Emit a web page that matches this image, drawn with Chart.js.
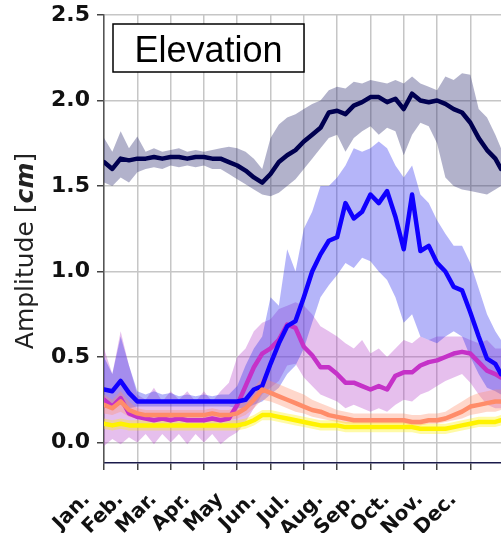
<!DOCTYPE html>
<html>
<head>
<meta charset="utf-8">
<script src="https://cdn.jsdelivr.net/npm/chart.js@4.4.1/dist/chart.umd.min.js"></script>
<style>
  body { margin: 0; background: white; }
  canvas { display: block; }
</style>
</head>
<body>
<canvas id="grafico" width="501" height="533"></canvas>
<script>
// tempo em meses desde 1 de janeiro
var tempo = [
    0, 0.25, 0.5, 0.75, 1, 1.25, 1.5, 1.75, 2, 2.25, 2.5, 2.75,
    3, 3.25, 3.5, 3.75, 4, 4.25, 4.5, 4.75, 5, 5.25, 5.5, 5.75,
    6, 6.25, 6.5, 6.75, 7, 7.25, 7.5, 7.75, 8, 8.25, 8.5, 8.75,
    9, 9.25, 9.5, 9.75, 10, 10.25, 10.5, 10.75, 11, 11.25, 11.5, 11.75,
    11.92
]
var nomesMeses = ['Jan.', 'Feb.', 'Mar.', 'Apr.', 'May', 'Jun.', 'Jul.', 'Aug.', 'Sep.', 'Oct.', 'Nov.', 'Dec.']
var posMeses = [0, 1, 2, 3, 4, 5, 6, 7, 8, 9, 10, 11]
var ticksY = [0, 0.5, 1.0, 1.5, 2.0, 2.5]
var tituloPainel = 'Elevation'

var navyMedia = [
    1.64, 1.60, 1.66, 1.65, 1.66, 1.66, 1.67, 1.66, 1.67, 1.67, 1.66, 1.67,
    1.67, 1.66, 1.66, 1.64, 1.62, 1.59, 1.55, 1.52, 1.57, 1.64, 1.68, 1.71,
    1.76, 1.80, 1.84, 1.93, 1.94, 1.92, 1.97, 1.99, 2.02, 2.02, 1.99, 2.01,
    1.95, 2.04, 2.00, 1.99, 2.00, 1.98, 1.95, 1.93, 1.87, 1.78, 1.71, 1.66,
    1.60
]
var navyAlto = [
    1.78, 1.70, 1.82, 1.72, 1.79, 1.70, 1.72, 1.70, 1.71, 1.72, 1.70, 1.71,
    1.70, 1.71, 1.72, 1.73, 1.72, 1.70, 1.66, 1.60, 1.78, 1.86, 1.90, 1.92,
    1.95, 1.98, 2.00, 2.06, 2.08, 2.07, 2.11, 2.10, 2.12, 2.11, 2.10, 2.12,
    2.10, 2.14, 2.10, 2.08, 2.06, 2.14, 2.12, 2.16, 2.15, 1.95, 1.90, 1.80,
    1.72
]
var navyBaixo = [
    1.52, 1.50, 1.55, 1.52, 1.58, 1.60, 1.61, 1.60, 1.62, 1.61, 1.62, 1.61,
    1.62, 1.60, 1.60, 1.57, 1.54, 1.51, 1.48, 1.45, 1.44, 1.46, 1.50, 1.54,
    1.60, 1.66, 1.72, 1.78, 1.80, 1.70, 1.78, 1.82, 1.85, 1.80, 1.84, 1.82,
    1.68, 1.80, 1.87, 1.85, 1.75, 1.55, 1.50, 1.48, 1.47, 1.46, 1.45, 1.48,
    1.50
]

var azulMedia = [
    0.31, 0.30, 0.36, 0.29, 0.24, 0.24, 0.24, 0.24, 0.24, 0.24, 0.24, 0.24,
    0.24, 0.24, 0.24, 0.24, 0.24, 0.25, 0.31, 0.33, 0.46, 0.58, 0.68, 0.71,
    0.85, 1.00, 1.10, 1.18, 1.20, 1.40, 1.31, 1.35, 1.45, 1.40, 1.47, 1.32,
    1.13, 1.45, 1.12, 1.15, 1.05, 1.00, 0.91, 0.89, 0.76, 0.62, 0.49, 0.46,
    0.40
]
var azulAlto = [
    0.50, 0.40, 0.62, 0.45, 0.30, 0.28, 0.30, 0.28, 0.29, 0.27, 0.28, 0.27,
    0.28, 0.27, 0.28, 0.28, 0.33, 0.45, 0.55, 0.62, 0.85, 0.80, 1.13, 1.00,
    1.25, 1.35, 1.50, 1.50, 1.55, 1.62, 1.72, 1.70, 1.72, 1.76, 1.72, 1.62,
    1.55, 1.62, 1.45, 1.40, 1.30, 1.22, 1.15, 1.15, 1.05, 0.90, 0.75, 0.65,
    0.60
]
var azulBaixo = [
    0.20, 0.22, 0.22, 0.20, 0.21, 0.21, 0.21, 0.21, 0.21, 0.21, 0.21, 0.21,
    0.21, 0.21, 0.21, 0.21, 0.20, 0.20, 0.22, 0.24, 0.28, 0.32, 0.40, 0.45,
    0.55, 0.70, 0.85, 0.92, 0.98, 1.05, 1.02, 1.08, 1.06, 1.00, 0.95, 0.85,
    0.70, 0.75, 0.62, 0.60, 0.58, 0.62, 0.65, 0.62, 0.50, 0.40, 0.32, 0.30,
    0.28
]

var magentaMedia = [
    0.25, 0.21, 0.26, 0.17, 0.15, 0.14, 0.13, 0.14, 0.13, 0.14, 0.13, 0.13,
    0.13, 0.14, 0.13, 0.14, 0.22, 0.33, 0.44, 0.52, 0.55, 0.60, 0.69, 0.67,
    0.56, 0.51, 0.44, 0.44, 0.40, 0.35, 0.35, 0.33, 0.31, 0.33, 0.31, 0.39,
    0.41, 0.41, 0.45, 0.47, 0.48, 0.50, 0.52, 0.53, 0.52, 0.47, 0.42, 0.40,
    0.38
]
var magentaAlto = [
    0.55, 0.40, 0.65, 0.45, 0.28, 0.25, 0.32, 0.24, 0.30, 0.25, 0.30, 0.24,
    0.30, 0.24, 0.30, 0.35, 0.50, 0.55, 0.65, 0.70, 0.72, 0.78, 0.80, 0.82,
    0.80, 0.75, 0.68, 0.65, 0.62, 0.58, 0.55, 0.60, 0.52, 0.55, 0.50, 0.55,
    0.60, 0.58, 0.62, 0.60, 0.62, 0.62, 0.62, 0.62, 0.60, 0.58, 0.60, 0.55,
    0.55
]
var magentaBaixo = [
    -0.02, 0.02, -0.01, 0.03, 0.00, 0.05, -0.01, 0.05, 0.00, 0.05, -0.01, 0.05,
    0.00, 0.05, -0.01, 0.03, 0.06, 0.12, 0.20, 0.28, 0.32, 0.36, 0.45, 0.46,
    0.38, 0.33, 0.28, 0.26, 0.24, 0.20, 0.22, 0.20, 0.18, 0.20, 0.18, 0.22,
    0.25, 0.24, 0.28, 0.30, 0.33, 0.36, 0.38, 0.40, 0.35, 0.28, 0.22, 0.20,
    0.20
]

var salmaoMedia = [
    0.22, 0.20, 0.24, 0.19, 0.17, 0.16, 0.16, 0.16, 0.16, 0.16, 0.16, 0.16,
    0.16, 0.17, 0.16, 0.16, 0.17, 0.20, 0.25, 0.31, 0.29, 0.27, 0.25, 0.23,
    0.21, 0.19, 0.18, 0.16, 0.15, 0.14, 0.13, 0.13, 0.13, 0.13, 0.13, 0.13,
    0.13, 0.12, 0.12, 0.13, 0.13, 0.14, 0.16, 0.18, 0.21, 0.22, 0.23, 0.24,
    0.24
]
var salmaoAlto = [
    0.28, 0.25, 0.30, 0.24, 0.20, 0.19, 0.19, 0.19, 0.19, 0.19, 0.19, 0.19,
    0.19, 0.20, 0.19, 0.19, 0.21, 0.26, 0.32, 0.38, 0.36, 0.34, 0.32, 0.30,
    0.28, 0.25, 0.23, 0.21, 0.19, 0.18, 0.17, 0.17, 0.17, 0.17, 0.17, 0.17,
    0.17, 0.16, 0.16, 0.17, 0.17, 0.18, 0.21, 0.24, 0.27, 0.29, 0.30, 0.31,
    0.31
]
var salmaoBaixo = [
    0.17, 0.16, 0.18, 0.15, 0.14, 0.13, 0.13, 0.13, 0.13, 0.13, 0.13, 0.13,
    0.13, 0.14, 0.13, 0.13, 0.14, 0.16, 0.20, 0.25, 0.24, 0.22, 0.20, 0.18,
    0.17, 0.15, 0.14, 0.13, 0.12, 0.11, 0.11, 0.11, 0.11, 0.11, 0.11, 0.11,
    0.11, 0.10, 0.10, 0.11, 0.11, 0.12, 0.13, 0.14, 0.16, 0.17, 0.18, 0.18,
    0.19
]

var amareloMedia = [
    0.11, 0.10, 0.11, 0.10, 0.10, 0.10, 0.10, 0.10, 0.10, 0.10, 0.10, 0.10,
    0.10, 0.10, 0.10, 0.10, 0.10, 0.11, 0.13, 0.16, 0.16, 0.15, 0.14, 0.13,
    0.12, 0.11, 0.10, 0.10, 0.10, 0.09, 0.09, 0.09, 0.09, 0.09, 0.09, 0.09,
    0.09, 0.09, 0.08, 0.08, 0.08, 0.08, 0.09, 0.10, 0.11, 0.12, 0.12, 0.12,
    0.13
]
var amareloAlto = [
    0.14, 0.13, 0.14, 0.13, 0.13, 0.13, 0.13, 0.13, 0.13, 0.13, 0.13, 0.13,
    0.13, 0.13, 0.13, 0.13, 0.13, 0.14, 0.16, 0.19, 0.19, 0.18, 0.17, 0.16,
    0.15, 0.14, 0.13, 0.13, 0.13, 0.12, 0.12, 0.12, 0.12, 0.12, 0.12, 0.12,
    0.12, 0.12, 0.11, 0.11, 0.11, 0.11, 0.12, 0.13, 0.14, 0.15, 0.15, 0.15,
    0.16
]
var amareloBaixo = [
    0.08, 0.07, 0.08, 0.07, 0.07, 0.07, 0.07, 0.07, 0.07, 0.07, 0.07, 0.07,
    0.07, 0.07, 0.07, 0.07, 0.07, 0.08, 0.10, 0.13, 0.13, 0.12, 0.11, 0.10,
    0.09, 0.08, 0.07, 0.07, 0.07, 0.06, 0.06, 0.06, 0.06, 0.06, 0.06, 0.06,
    0.06, 0.06, 0.05, 0.05, 0.05, 0.05, 0.06, 0.07, 0.08, 0.09, 0.09, 0.09,
    0.10
]

// ordem: o primeiro fica por cima
var series = [
    { media: amareloMedia, alto: amareloAlto, baixo: amareloBaixo, cor: '#fff200', faixa: 'rgba(255, 240, 0, 0.35)' },
    { media: salmaoMedia, alto: salmaoAlto, baixo: salmaoBaixo, cor: '#ff8c69', faixa: 'rgba(255, 140, 105, 0.35)' },
    { media: azulMedia, alto: azulAlto, baixo: azulBaixo, cor: '#1000ff', faixa: 'rgba(60, 60, 240, 0.38)' },
    { media: magentaMedia, alto: magentaAlto, baixo: magentaBaixo, cor: '#c531c8', faixa: 'rgba(180, 60, 200, 0.33)' },
    { media: navyMedia, alto: navyAlto, baixo: navyBaixo, cor: '#000050', faixa: 'rgba(45, 45, 115, 0.37)' }
]

function pontos(valores) {
    return tempo.map((t, i) => ({ x: t, y: valores[i] }))
}

function montarDatasets() {
    var lista = []
    for (let i = 0; i < series.length; i++) {
        lista.push({
            data: pontos(series[i].media),
            borderColor: series[i].cor,
            borderWidth: 4.5,
            borderJoinStyle: 'round',
            borderCapStyle: 'round',
            fill: false
        })
    }
    for (let i = 0; i < series.length; i++) {
        var idx = lista.length
        lista.push({
            data: pontos(series[i].alto),
            borderWidth: 0,
            borderColor: 'transparent',
            backgroundColor: series[i].faixa,
            fill: idx + 1
        })
        lista.push({
            data: pontos(series[i].baixo),
            borderWidth: 0,
            borderColor: 'transparent',
            fill: false
        })
    }
    return lista
}

var caixaTitulo = {
    id: 'caixaTitulo',
    afterDraw: function (chart) {
        var ctx = chart.ctx
        var a = chart.chartArea
        var x = a.left + 9
        var y = a.top + 9
        ctx.save()
        ctx.fillStyle = 'white'
        ctx.fillRect(x, y, 191, 48)
        ctx.lineWidth = 1.5
        ctx.strokeStyle = 'black'
        ctx.strokeRect(x, y, 191, 48)
        ctx.fillStyle = 'black'
        ctx.font = '36px "Liberation Sans"'
        ctx.textAlign = 'center'
        ctx.textBaseline = 'alphabetic'
        ctx.fillText(tituloPainel, x + 95.5, y + 38)
        ctx.restore()
    }
}

var rotuloY = {
    id: 'rotuloY',
    afterDraw: function (chart) {
        var ctx = chart.ctx
        var partes = [
            ['Amplitude [', '25px "DejaVu Sans"'],
            ['cm', 'italic bold 25px "DejaVu Sans"'],
            [']', '25px "DejaVu Sans"']
        ]
        var total = 0
        for (let i = 0; i < partes.length; i++) {
            ctx.font = partes[i][1]
            total += ctx.measureText(partes[i][0]).width
        }
        ctx.save()
        ctx.translate(33, 251)
        ctx.rotate(-Math.PI / 2)
        ctx.fillStyle = '#222'
        ctx.textBaseline = 'alphabetic'
        ctx.textAlign = 'left'
        var pos = -total / 2
        for (let i = 0; i < partes.length; i++) {
            ctx.font = partes[i][1]
            ctx.fillText(partes[i][0], pos, 0)
            pos += ctx.measureText(partes[i][0]).width
        }
        ctx.restore()
    }
}

var ctx = document.getElementById('grafico').getContext('2d')
var grafico = new Chart(ctx, {
    type: 'line',
    data: { datasets: montarDatasets() },
    options: {
        responsive: false,
        animation: false,
        layout: { padding: { top: 15, right: 0, left: 0, bottom: 0 } },
        elements: { point: { radius: 0 }, line: { tension: 0 } },
        plugins: {
            legend: { display: false },
            tooltip: { enabled: false }
        },
        scales: {
            x: {
                type: 'linear',
                min: 0,
                max: 11.92,
                afterBuildTicks: function (scale) {
                    scale.ticks = posMeses.map(v => ({ value: v }))
                },
                afterFit: function (scale) {
                    scale.height = 70
                    scale.paddingRight = 0
                },
                grid: { color: '#c6c6c6', lineWidth: 1.5, tickLength: 7, tickColor: '#444', tickWidth: 1.5 },
                border: { display: true, color: '#1a1a4a', width: 1.5 },
                ticks: {
                    autoSkip: false,
                    maxRotation: 45,
                    minRotation: 45,
                    padding: 18,
                    labelOffset: -17,
                    color: '#111',
                    font: { family: 'DejaVu Sans', weight: 'bold', size: 20 },
                    callback: function (v, i) { return nomesMeses[i] }
                }
            },
            y: {
                min: -0.12,
                max: 2.5,
                afterBuildTicks: function (scale) {
                    scale.ticks = ticksY.map(v => ({ value: v }))
                },
                afterFit: function (scale) {
                    scale.width = 104
                    scale.paddingTop = 0
                    scale.paddingBottom = 0
                },
                grid: { color: '#c6c6c6', lineWidth: 1.5, tickLength: 7, tickColor: '#444', tickWidth: 1.5 },
                border: { display: true, color: '#555', width: 1.5 },
                ticks: {
                    padding: 7,
                    color: '#111',
                    font: { family: 'DejaVu Sans', weight: 'bold', size: 22 },
                    callback: function (v) { return v.toFixed(1) }
                }
            }
        }
    },
    plugins: [caixaTitulo, rotuloY]
})
</script>
</body>
</html>
